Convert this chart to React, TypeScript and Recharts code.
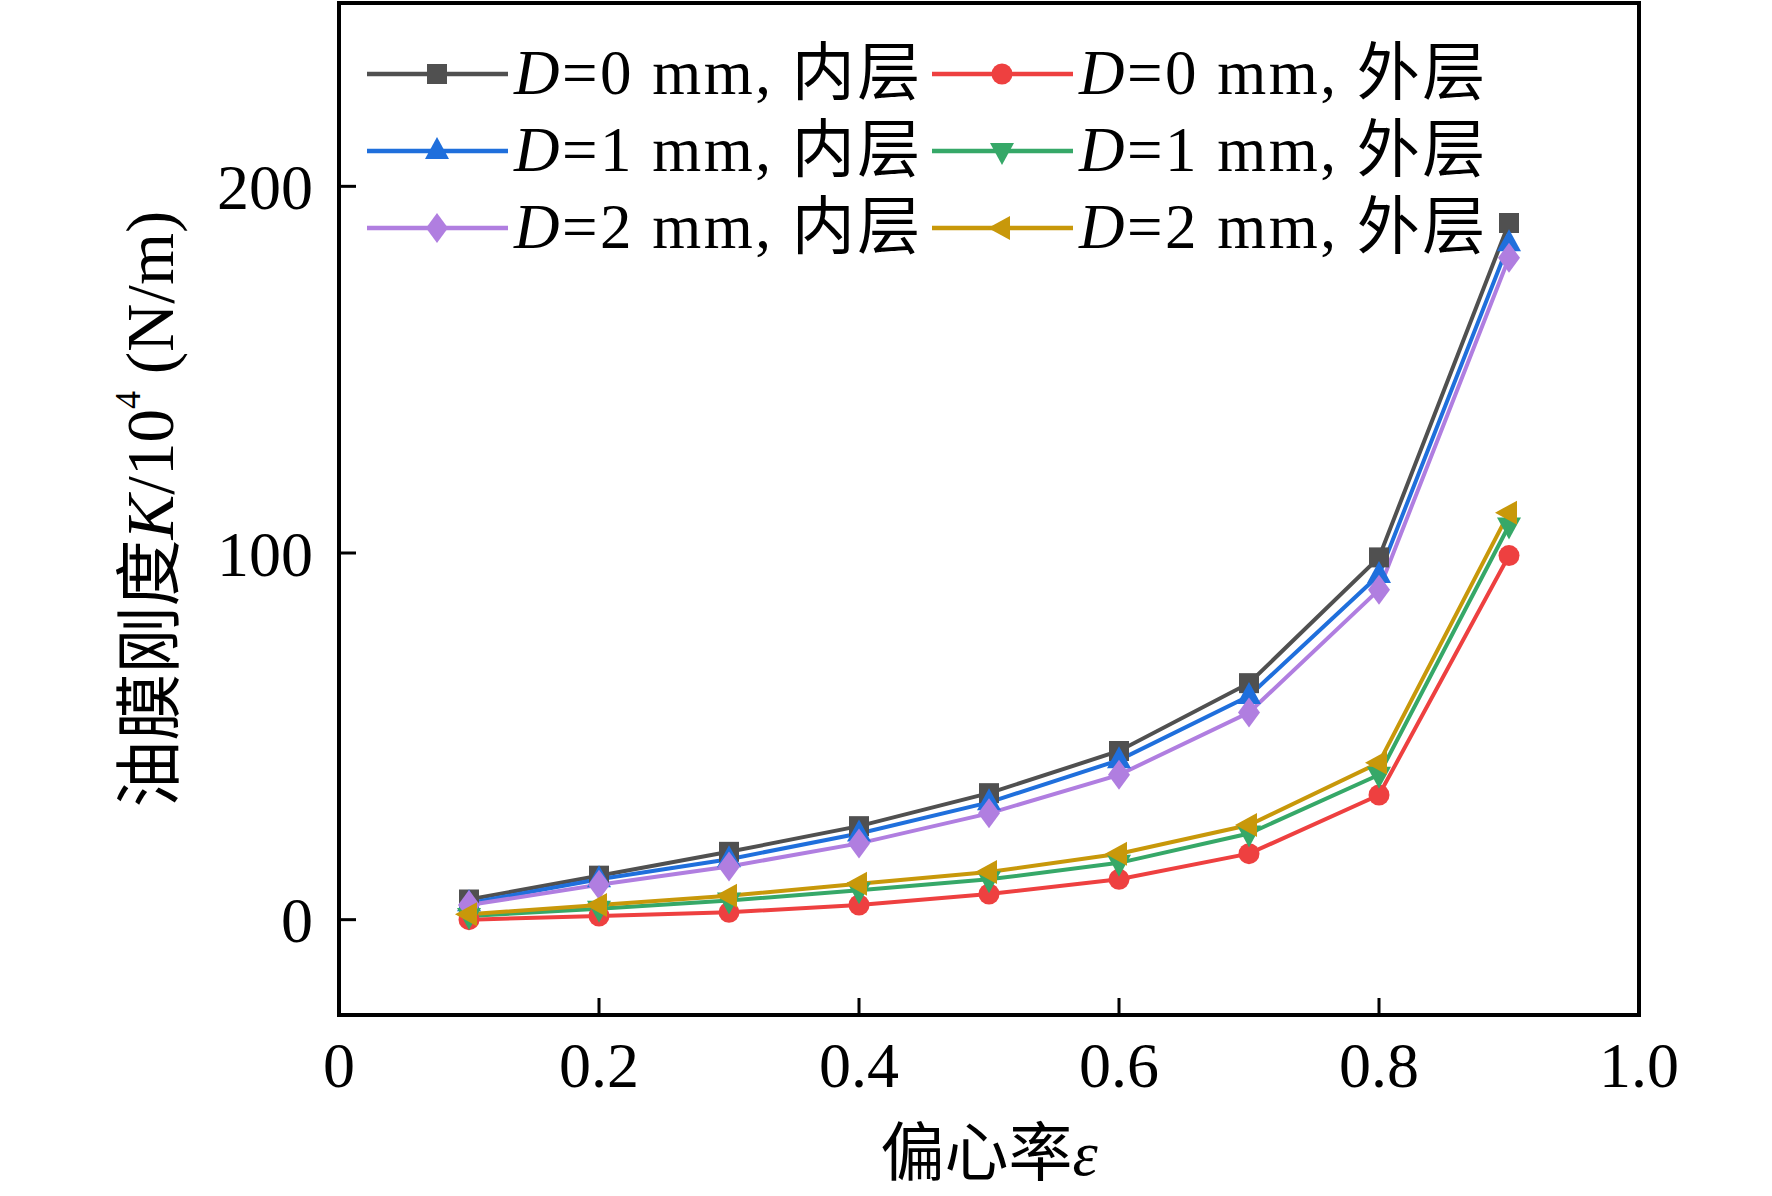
import { LineChart, Line, XAxis, YAxis, ReferenceArea, Legend } from 'recharts';

const SERIF = '"Liberation Serif", "Times New Roman", "Noto Sans CJK SC", serif';

// eccentricity ratio
const ECC = [0.1, 0.2, 0.3, 0.4, 0.5, 0.6, 0.7, 0.8, 0.9];

// oil film stiffness K / 10^4 (N/m)
const D0_INNER = [5.5, 12, 18.5, 25.5, 34.5, 46, 64.5, 98.8, 190];
const D0_OUTER = [0, 1, 2, 4, 7, 11, 18, 34, 99.3];
const D1_INNER = [4.5, 11, 16.5, 23.5, 32, 43.5, 61, 94, 184.5];
const D1_OUTER = [1, 3, 5.2, 8, 11, 15.5, 23.5, 39.5, 107.5];
const D2_INNER = [4, 9.5, 14.5, 20.8, 29, 39.5, 56.5, 90, 180.5];
const D2_OUTER = [1.5, 4, 6.5, 9.8, 13, 18, 25.8, 42.8, 111];

const X_TICKS = [0, 0.2, 0.4, 0.6, 0.8, 1.0];
const Y_TICKS = [0, 100, 200];

// legend order: row by row, inner / outer
const SERIES = [
  { key: 'd0in', d: '0', layer: '内层', color: '#505050', shape: 'square', values: D0_INNER },
  { key: 'd0out', d: '0', layer: '外层', color: '#ee4040', shape: 'circle', values: D0_OUTER },
  { key: 'd1in', d: '1', layer: '内层', color: '#1f6fdc', shape: 'up', values: D1_INNER },
  { key: 'd1out', d: '1', layer: '外层', color: '#36a868', shape: 'down', values: D1_OUTER },
  { key: 'd2in', d: '2', layer: '内层', color: '#b07ee0', shape: 'diamond', values: D2_INNER },
  { key: 'd2out', d: '2', layer: '外层', color: '#c8980a', shape: 'left', values: D2_OUTER },
];

const rows = ECC.map((x, i) => {
  const r: Record<string, number> = { x };
  SERIES.forEach((s) => (r[s.key] = s.values[i]));
  return r;
});

function Marker({ shape, cx, cy, color }: { shape: string; cx: number; cy: number; color: string }) {
  switch (shape) {
    case 'square':
      return <rect x={cx - 10} y={cy - 10} width={20} height={20} fill={color} />;
    case 'circle':
      return <circle cx={cx} cy={cy} r={10.5} fill={color} />;
    case 'up':
      return <polygon points={`${cx},${cy - 14} ${cx + 12},${cy + 8} ${cx - 12},${cy + 8}`} fill={color} />;
    case 'down':
      return <polygon points={`${cx},${cy + 14} ${cx + 12},${cy - 8} ${cx - 12},${cy - 8}`} fill={color} />;
    case 'diamond':
      return <polygon points={`${cx},${cy - 15} ${cx + 11},${cy} ${cx},${cy + 15} ${cx - 11},${cy}`} fill={color} />;
    default:
      return <polygon points={`${cx - 14},${cy} ${cx + 8},${cy - 12} ${cx + 8},${cy + 12}`} fill={color} />;
  }
}

const LegendGrid = () => (
  <div style={{ display: 'grid', gridTemplateColumns: '565px 565px', fontFamily: SERIF, fontSize: 63, color: '#000' }}>
    {SERIES.map((s) => (
      <div key={s.key} style={{ display: 'flex', alignItems: 'center', height: 77, whiteSpace: 'nowrap' }}>
        <svg width={141} height={30} style={{ flex: 'none' }}>
          <line x1={0} y1={15} x2={141} y2={15} stroke={s.color} strokeWidth={4.5} />
          <Marker shape={s.shape} cx={70} cy={15} color={s.color} />
        </svg>
        <span style={{ marginLeft: 6, lineHeight: 1, letterSpacing: 2.5 }}>
          <i>D</i>={s.d} mm, {s.layer}
        </span>
      </div>
    ))}
  </div>
);

const YTitle = ({ viewBox }: any) => {
  const x = viewBox.x + 150;
  const y = viewBox.y + viewBox.height / 2;
  return (
    <text
      x={x}
      y={y}
      transform={`rotate(-90 ${x} ${y})`}
      textAnchor="middle"
      dominantBaseline="central"
      fontFamily={SERIF}
      fontSize={67}
      fill="#000"
    >
      油膜刚度<tspan fontStyle="italic">K</tspan>/10
      <tspan dy={-22} fontSize={36}>4</tspan>
      <tspan dy={22}> (N/m)</tspan>
    </text>
  );
};

const XTitle = ({ viewBox }: any) => {
  const x = viewBox.x + viewBox.width / 2;
  const y = viewBox.y + 138;
  return (
    <text x={x} y={y} textAnchor="middle" dominantBaseline="central" fontFamily={SERIF} fontSize={64} fill="#000">
      偏心率<tspan fontStyle="italic">ε</tspan>
    </text>
  );
};

export default function App() {
  const tickStyle = { fill: '#000', fontSize: 64, fontFamily: SERIF };
  return (
    <div style={{ position: 'absolute', left: 0, top: 0, width: 1772, height: 1196, background: '#fff' }}>
      <LineChart width={1772} height={1196} data={rows} margin={{ top: 3, right: 133, bottom: 0, left: 0 }}>
        <XAxis
          dataKey="x"
          type="number"
          domain={[0, 1]}
          ticks={X_TICKS}
          tickFormatter={(v: number) => (v === 0 ? '0' : v.toFixed(1))}
          height={181}
          axisLine={false}
          tickLine={{ stroke: '#000', strokeWidth: 3 }}
          tickSize={-17}
          tickMargin={44}
          tick={tickStyle}
          interval={0}
          label={<XTitle />}
        />
        <YAxis
          type="number"
          domain={[-26, 250]}
          ticks={Y_TICKS}
          width={339}
          axisLine={false}
          tickLine={{ stroke: '#000', strokeWidth: 3 }}
          tickSize={-17}
          tickMargin={43}
          tick={tickStyle}
          interval={0}
          label={<YTitle />}
        />
        <ReferenceArea x1={0} x2={1} y1={-26} y2={250} stroke="#000" strokeWidth={4} fill="none" fillOpacity={0} />
        {SERIES.map((s) => (
          <Line
            key={s.key}
            dataKey={s.key}
            stroke={s.color}
            strokeWidth={4}
            isAnimationActive={false}
            dot={(p: any) => <Marker key={`${s.key}-${p.index}`} shape={s.shape} cx={p.cx} cy={p.cy} color={s.color} />}
            activeDot={false}
          />
        ))}
        <Legend
          layout="horizontal"
          verticalAlign="middle"
          align="center"
          wrapperStyle={{ left: 367, top: 35, width: 1150, height: 231 }}
          content={() => <LegendGrid />}
        />
      </LineChart>
    </div>
  );
}
